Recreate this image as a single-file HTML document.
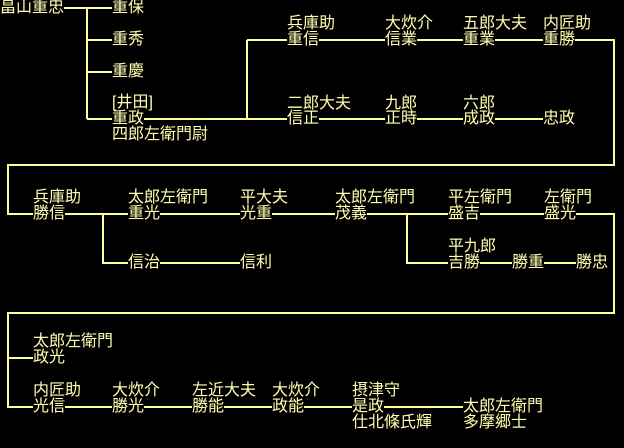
<!DOCTYPE html>
<html><head><meta charset="utf-8"><style>
html,body{margin:0;padding:0;background:#000;}
#w{position:relative;width:624px;height:448px;overflow:hidden;background:#000;}
svg{position:absolute;left:0;top:0;}
.t{position:absolute;font-family:"Liberation Sans","Noto Sans CJK JP","WenQuanYi Zen Hei",sans-serif;font-size:16px;line-height:16px;color:#ffffb0;background:#000;white-space:nowrap;}
.n{background:transparent;}
</style></head><body><div id="w">
<svg width="624" height="448"><g stroke="#ffff99" stroke-width="2" fill="none">
<path d="M0 8H112M87 8V119M87 40H112M87 72H112M87 119H543M247 40V119M247 40H614V165H8V214H614V313H8V407H463M103 214V263H240M407 214V263H600M8 358H33"/>
</g></svg>
<div class="t" style="left:0;top:0">畠山重忠</div>
<div class="t" style="left:112;top:0;left:112px">重保</div>
<div class="t" style="left:112px;top:32px">重秀</div>
<div class="t" style="left:112px;top:64px">重慶</div>
<div class="t n" style="left:112px;top:95px">[井田]</div>
<div class="t" style="left:112px;top:111px">重政</div>
<div class="t n" style="left:112px;top:127px">四郎左衛門尉</div>

<div class="t n" style="left:287px;top:16px">兵庫助</div>
<div class="t" style="left:287px;top:32px">重信</div>
<div class="t n" style="left:385px;top:16px">大炊介</div>
<div class="t" style="left:385px;top:32px">信業</div>
<div class="t n" style="left:463px;top:16px">五郎大夫</div>
<div class="t" style="left:463px;top:32px">重業</div>
<div class="t n" style="left:543px;top:16px">内匠助</div>
<div class="t" style="left:543px;top:32px">重勝</div>

<div class="t n" style="left:287px;top:96px">二郎大夫</div>
<div class="t" style="left:287px;top:111px">信正</div>
<div class="t n" style="left:385px;top:96px">九郎</div>
<div class="t" style="left:385px;top:111px">正時</div>
<div class="t n" style="left:463px;top:96px">六郎</div>
<div class="t" style="left:463px;top:111px">成政</div>
<div class="t" style="left:543px;top:111px">忠政</div>

<div class="t n" style="left:33px;top:190px">兵庫助</div>
<div class="t" style="left:33px;top:206px">勝信</div>
<div class="t n" style="left:128px;top:190px">太郎左衛門</div>
<div class="t" style="left:128px;top:206px">重光</div>
<div class="t n" style="left:240px;top:190px">平大夫</div>
<div class="t" style="left:240px;top:206px">光重</div>
<div class="t n" style="left:335px;top:190px">太郎左衛門</div>
<div class="t" style="left:335px;top:206px">茂義</div>
<div class="t n" style="left:448px;top:190px">平左衛門</div>
<div class="t" style="left:448px;top:206px">盛吉</div>
<div class="t n" style="left:544px;top:190px">左衛門</div>
<div class="t" style="left:544px;top:206px">盛光</div>

<div class="t" style="left:128px;top:255px">信治</div>
<div class="t" style="left:240px;top:255px">信利</div>
<div class="t n" style="left:448px;top:239px">平九郎</div>
<div class="t" style="left:448px;top:255px">吉勝</div>
<div class="t" style="left:512px;top:255px">勝重</div>
<div class="t" style="left:576px;top:255px">勝忠</div>

<div class="t n" style="left:33px;top:334px">太郎左衛門</div>
<div class="t" style="left:33px;top:350px">政光</div>

<div class="t n" style="left:33px;top:383px">内匠助</div>
<div class="t" style="left:33px;top:399px">光信</div>
<div class="t n" style="left:112px;top:383px">大炊介</div>
<div class="t" style="left:112px;top:399px">勝光</div>
<div class="t n" style="left:192px;top:383px">左近大夫</div>
<div class="t" style="left:192px;top:399px">勝能</div>
<div class="t n" style="left:272px;top:383px">大炊介</div>
<div class="t" style="left:272px;top:399px">政能</div>
<div class="t n" style="left:352px;top:383px">摂津守</div>
<div class="t" style="left:352px;top:399px">是政</div>
<div class="t n" style="left:352px;top:415px">仕北條氏輝</div>
<div class="t" style="left:463px;top:399px">太郎左衛門</div>
<div class="t n" style="left:463px;top:415px">多摩郷士</div>
</div></body></html>
